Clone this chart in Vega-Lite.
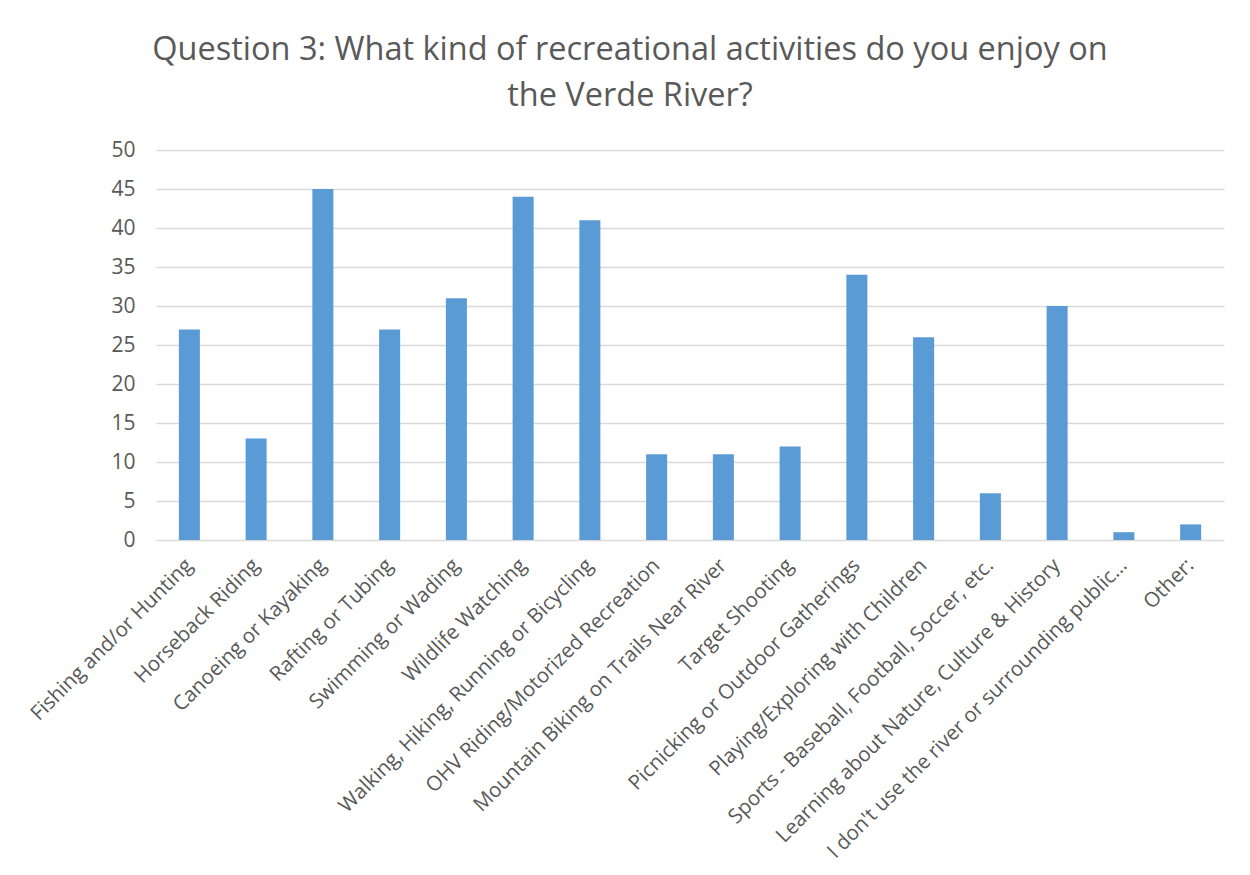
{
  "$schema": "https://vega.github.io/schema/vega-lite/v6.json",
  "width": 1068,
  "height": 390,
  "autosize": {"type": "none"},
  "padding": {"left": 156, "top": 150, "right": 26, "bottom": 335},
  "background": "white",
  "title": {
    "text": ["Question 3: What kind of recreational activities do you enjoy on", "the Verde River?"],
    "anchor": "middle",
    "frame": "group",
    "dx": -60,
    "offset": 27,
    "font": "Open Sans",
    "fontSize": 32.5,
    "fontWeight": "normal",
    "lineHeight": 46,
    "color": "#595959"
  },
  "data": {
    "values": [
      {"activity": "Fishing and/or Hunting", "count": 27},
      {"activity": "Horseback Riding", "count": 13},
      {"activity": "Canoeing or Kayaking", "count": 45},
      {"activity": "Rafting or Tubing", "count": 27},
      {"activity": "Swimming or Wading", "count": 31},
      {"activity": "Wildlife Watching", "count": 44},
      {"activity": "Walking, Hiking, Running or Bicycling", "count": 41},
      {"activity": "OHV Riding/Motorized Recreation", "count": 11},
      {"activity": "Mountain Biking on  Trails Near River", "count": 11},
      {"activity": "Target Shooting", "count": 12},
      {"activity": "Picnicking or Outdoor Gatherings", "count": 34},
      {"activity": "Playing/Exploring with Children", "count": 26},
      {"activity": "Sports - Baseball, Football, Soccer, etc.", "count": 6},
      {"activity": "Learning about Nature, Culture & History", "count": 30},
      {"activity": "I don't use the river or surrounding public…", "count": 1},
      {"activity": "Other:", "count": 2}
    ]
  },
  "mark": {"type": "bar", "color": "#5B9BD5"},
  "encoding": {
    "x": {
      "field": "activity",
      "type": "nominal",
      "sort": null,
      "title": null,
      "scale": {"paddingInner": 0.685, "paddingOuter": 0.3425},
      "axis": {
        "labelAngle": -45,
        "labelAlign": "right",
        "labelBaseline": "middle",
        "labelPadding": 22,
        "labelFont": "Open Sans",
        "labelFontSize": 20.5,
        "labelColor": "#595959",
        "labelLimit": 600,
        "ticks": false,
        "domain": false
      }
    },
    "y": {
      "field": "count",
      "type": "quantitative",
      "title": null,
      "scale": {"domain": [0, 50]},
      "axis": {
        "values": [0, 5, 10, 15, 20, 25, 30, 35, 40, 45, 50],
        "labelFont": "Open Sans",
        "labelFontSize": 21,
        "labelColor": "#595959",
        "labelPadding": 21,
        "ticks": false,
        "domain": false,
        "grid": true,
        "gridColor": "#D9D9D9",
        "gridWidth": 1.5
      }
    }
  },
  "config": {"view": {"stroke": null}}
}
